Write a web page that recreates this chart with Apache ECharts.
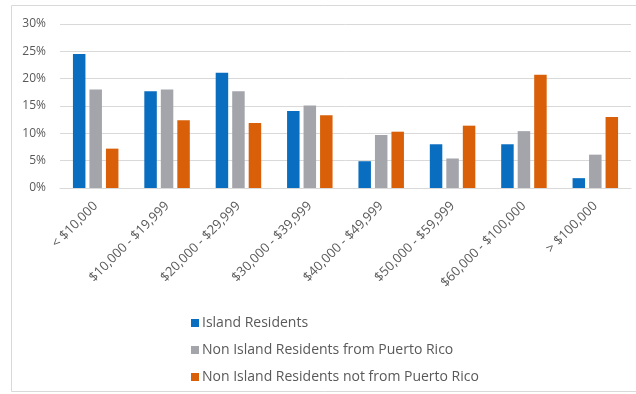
<!DOCTYPE html>
<html><head><meta charset="utf-8">
<script src="https://cdn.jsdelivr.net/npm/echarts@6/dist/echarts.min.js"></script>
<style>html,body{margin:0;padding:0;background:#fff}#c{width:636px;height:394px}</style>
</head><body><div id="c"></div>
<script>
var categories = ['< $10,000','$10,000 - $19,999','$20,000 - $29,999','$30,000 - $39,999','$40,000 - $49,999','$50,000 - $59,999','$60,000 - $100,000','> $100,000'];
var islandResidents = [24.5, 17.7, 21.1, 14.1, 4.9, 8.0, 8.0, 1.8];
var nonIslandFromPR = [18.0, 18.0, 17.7, 15.1, 9.7, 5.4, 10.4, 6.1];
var nonIslandNotFromPR = [7.2, 12.4, 11.9, 13.3, 10.3, 11.4, 20.7, 13.0];
var yTicks = [0, 5, 10, 15, 20, 25, 30];

var font = 'Open Sans';
var chart = echarts.init(document.getElementById('c'));
chart.setOption({
  animation: false,
  textStyle: {fontFamily: font},
  graphic: [{type: 'rect', shape: {x: 11.5, y: 5.5, width: 640, height: 386}, style: {fill: 'none', stroke: '#d9d9d9', lineWidth: 1}, silent: true}],
  grid: {left: 60, right: 5, top: 24, bottom: 206, containLabel: false},
  legend: {
    orient: 'vertical', left: 186, top: 311, itemGap: 13, itemWidth: 8, itemHeight: 8,
    icon: 'rect',
    textStyle: {fontFamily: font, fontSize: 14, lineHeight: 14, color: '#595959', padding: [0, 0, 0, -2]},
    data: ['Island Residents', 'Non Island Residents from Puerto Rico', 'Non Island Residents not from Puerto Rico']
  },
  xAxis: {
    type: 'category', data: categories,
    axisLine: {lineStyle: {color: '#d9d9d9'}},
    axisTick: {show: false},
    axisLabel: {rotate: 45, color: '#595959', fontSize: 13, fontFamily: font, margin: 16, interval: 0}
  },
  yAxis: {
    type: 'value', min: yTicks[0], max: yTicks[yTicks.length - 1], interval: 5,
    axisLine: {show: false}, axisTick: {show: false},
    splitLine: {lineStyle: {color: '#d9d9d9'}},
    axisLabel: {formatter: '{value}%', color: '#595959', fontSize: 12, fontFamily: font, margin: 14}
  },
  series: [
    {name: 'Island Residents', type: 'bar', data: islandResidents, barWidth: 12.5, barGap: '32%', itemStyle: {color: '#0A6EC0'}},
    {name: 'Non Island Residents from Puerto Rico', type: 'bar', data: nonIslandFromPR, barWidth: 12.5, barGap: '32%', itemStyle: {color: '#A3A5AB'}},
    {name: 'Non Island Residents not from Puerto Rico', type: 'bar', data: nonIslandNotFromPR, barWidth: 12.5, barGap: '32%', itemStyle: {color: '#D96008'}}
  ]
});
</script></body></html>
